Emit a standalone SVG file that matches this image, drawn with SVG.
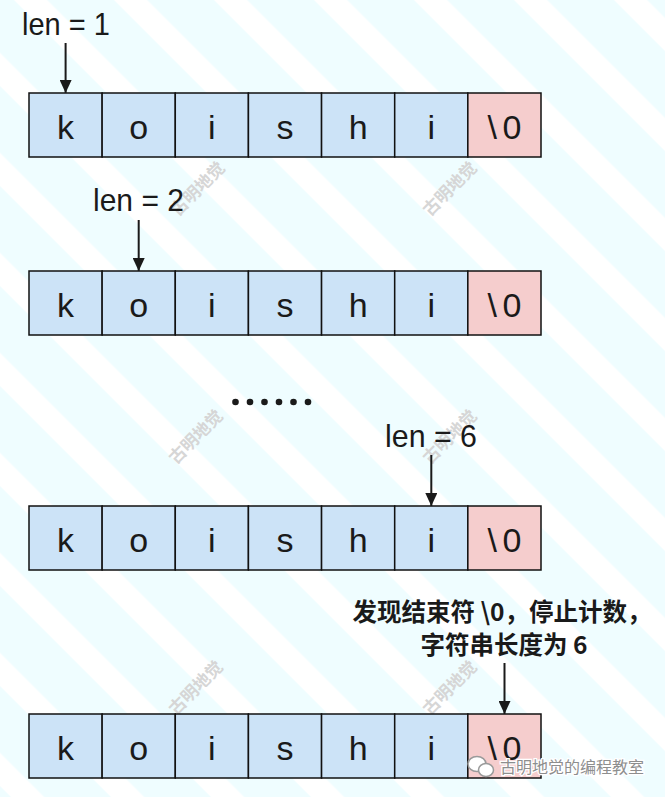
<svg xmlns="http://www.w3.org/2000/svg" width="665" height="797" viewBox="0 0 665 797">
<defs>
<pattern id="stripes" patternUnits="userSpaceOnUse" width="70.71" height="20" patternTransform="rotate(-45)">
<rect x="0" y="0" width="70.71" height="20" fill="#effdff"/>
<rect x="9.9" y="0" width="23.5" height="20" fill="#ffffff"/>
</pattern>
<marker id="ah" markerWidth="13" markerHeight="12" refX="13" refY="6" orient="auto" markerUnits="userSpaceOnUse" viewBox="0 0 13 12">
<path d="M0,0 L13,6 L0,12 Z" fill="#1a1a1a"/>
</marker>
<style>
.cell{fill:#cce3f7;stroke:#111;stroke-width:1.5}
.end{fill:#f5cdcd;stroke:#111;stroke-width:1.5}
.ch{font-family:"Liberation Sans","DejaVu Sans",sans-serif;font-size:34px;fill:#1a1a1a;text-anchor:middle}
.lbl{font-family:"Liberation Sans","DejaVu Sans",sans-serif;font-size:32px;fill:#1a1a1a}
.arr{stroke:#1a1a1a;stroke-width:2;fill:none}
.cn{font-family:"Noto Sans CJK SC",sans-serif;font-size:24.5px;font-weight:bold;fill:#1a1a1a;text-anchor:middle}
.wm{font-family:"Noto Sans CJK SC",sans-serif;font-size:17px;fill:#d6d6d6;font-weight:bold}
.brand{font-family:"Noto Sans CJK SC",sans-serif;font-size:16px;fill:#8e8e8e;stroke:#ffffff;stroke-width:2.5;paint-order:stroke}
</style>
<g id="row">
<rect class="cell" x="29" y="0" width="73.14" height="64"/>
<rect class="cell" x="102.14" y="0" width="73.14" height="64"/>
<rect class="cell" x="175.28" y="0" width="73.14" height="64"/>
<rect class="cell" x="248.42" y="0" width="73.14" height="64"/>
<rect class="cell" x="321.56" y="0" width="73.14" height="64"/>
<rect class="cell" x="394.7" y="0" width="73.14" height="64"/>
<rect class="end" x="467.84" y="0" width="73.16" height="64"/>
<text class="ch" x="65.6" y="46">k</text>
<text class="ch" x="138.7" y="46">o</text>
<text class="ch" x="211.9" y="46">i</text>
<text class="ch" x="285" y="46">s</text>
<text class="ch" x="358.1" y="46">h</text>
<text class="ch" x="431.3" y="46">i</text>
<text class="ch" x="504.5" y="46" textLength="34" lengthAdjust="spacing">\0</text>
</g>
</defs>
<rect width="665" height="797" fill="url(#stripes)"/>

<g id="watermarks">
<text class="wm" transform="translate(178,217) rotate(-45)">古明地觉</text>
<text class="wm" transform="translate(430,217) rotate(-45)">古明地觉</text>
<text class="wm" transform="translate(176,465) rotate(-45)">古明地觉</text>
<text class="wm" transform="translate(430,465) rotate(-45)">古明地觉</text>
<text class="wm" transform="translate(176,716) rotate(-45)">古明地觉</text>
<text class="wm" transform="translate(430,716) rotate(-45)">古明地觉</text>
</g>

<g id="array1"><use href="#row" y="93"/></g>
<g id="array2"><use href="#row" y="271"/></g>
<g id="array3"><use href="#row" y="506"/></g>
<g id="array4"><use href="#row" y="714"/></g>

<g id="label1"><text class="lbl" x="22" y="35" textLength="88" lengthAdjust="spacingAndGlyphs">len = 1</text></g>
<g id="label2"><text class="lbl" x="93" y="211" textLength="91" lengthAdjust="spacingAndGlyphs">len = 2</text></g>
<g id="label3"><text class="lbl" x="385" y="447" textLength="92" lengthAdjust="spacingAndGlyphs">len = 6</text></g>
<g id="label4">
<text class="cn" x="502" y="621">发现结束符 \0，停止计数，</text>
<text class="cn" x="504" y="654">字符串长度为 6</text>
</g>

<g id="ellipsis" fill="#1a1a1a">
<circle cx="235.5" cy="402" r="3.3"/>
<circle cx="250" cy="402" r="3.3"/>
<circle cx="264.5" cy="402" r="3.3"/>
<circle cx="279" cy="402" r="3.3"/>
<circle cx="293.5" cy="402" r="3.3"/>
<circle cx="308" cy="402" r="3.3"/>
</g>

<g id="connectors">
<line class="arr" x1="65.6" y1="43" x2="65.6" y2="93" marker-end="url(#ah)"/>
<line class="arr" x1="138.7" y1="220" x2="138.7" y2="271" marker-end="url(#ah)"/>
<line class="arr" x1="431.3" y1="455" x2="431.3" y2="506" marker-end="url(#ah)"/>
<line class="arr" x1="504.5" y1="663" x2="504.5" y2="714" marker-end="url(#ah)"/>
</g>

<g id="brand">
<ellipse cx="477" cy="764" rx="9" ry="7.5" fill="#ffffff" stroke="#9a9a9a" stroke-width="1.5"/>
<ellipse cx="486" cy="770" rx="7.5" ry="6.5" fill="#ffffff" stroke="#9a9a9a" stroke-width="1.5"/>
<text class="brand" x="500" y="773">古明地觉的编程教室</text>
</g>
</svg>
